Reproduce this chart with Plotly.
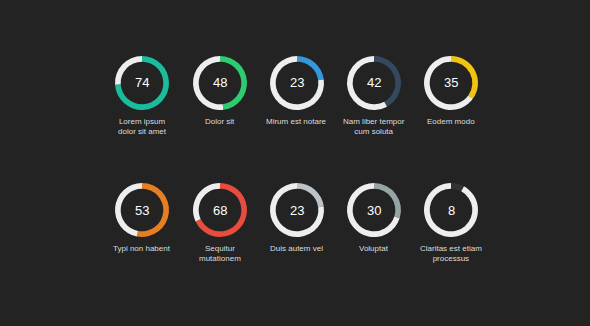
import plotly.graph_objects as go

W, H = 590, 326
values = [74, 48, 23, 42, 35, 53, 68, 23, 30, 8]
labels = ["Lorem ipsum<br>dolor sit amet", "Dolor sit", "Mirum est notare",
          "Nam liber tempor<br>cum soluta", "Eodem modo",
          "Typi non habent", "Sequitur<br>mutationem", "Duis autem vel",
          "Voluptat", "Claritas est etiam<br>processus"]
colors = ["#1abc9c", "#2ecc71", "#3498db", "#34495e", "#f1c40f",
          "#e67e22", "#e74c3c", "#bdc3c7", "#95a5a6", "#333333"]
centers_x = [142, 220, 297, 374, 451]
centers_y = [83, 210]
R = 27

fig = go.Figure()
for i, v in enumerate(values):
    cx = centers_x[i % 5]
    cy = centers_y[i // 5]
    fig.add_trace(go.Pie(
        values=[v, 100 - v], sort=False, direction="clockwise", rotation=0,
        hole=0.79, textinfo="none", hoverinfo="skip", showlegend=False,
        marker=dict(colors=[colors[i], "#eeeeee"], line=dict(width=0)),
        domain=dict(x=[(cx - R) / W, (cx + R) / W],
                    y=[(H - cy - R) / H, (H - cy + R) / H])))
    fig.add_annotation(x=cx / W, y=(H - cy) / H, xref="paper", yref="paper",
                       text=str(v), showarrow=False, xanchor="center", yanchor="middle",
                       font=dict(family="Liberation Sans", size=13, color="#ffffff"))
    fig.add_annotation(x=cx / W, y=(H - cy - R - 5) / H, xref="paper", yref="paper",
                       text=labels[i], showarrow=False, xanchor="center", yanchor="top",
                       font=dict(family="Liberation Sans", size=8, color="#dddddd"))

fig.update_layout(width=W, height=H, margin=dict(l=0, r=0, t=0, b=0),
                  paper_bgcolor="#232323", plot_bgcolor="#232323")
fig.write_html("out.html")
